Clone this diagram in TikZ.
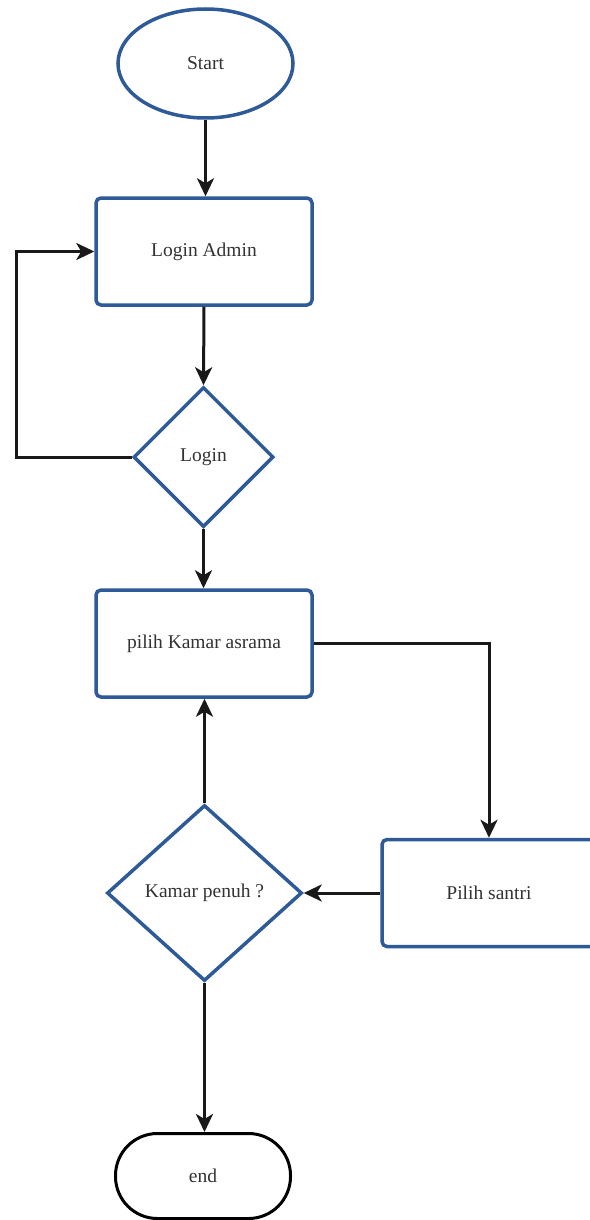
\documentclass[tikz,border=0pt]{standalone}
\usepackage{fontspec}
\setmainfont{Liberation Serif}
\usetikzlibrary{shapes.geometric,arrows.meta}
\definecolor{fblue}{RGB}{46,90,152}
\begin{document}
\begin{tikzpicture}[x=1pt,y=-1pt,
  every node/.style={font=\fontsize{19.5}{22}\selectfont, text=black!80, inner sep=0pt},
  bluebox/.style={draw=fblue, line width=3.5pt, fill=white, rectangle, rounded corners=5pt, minimum width=216pt, minimum height=107pt},
  bluedia/.style={draw=fblue, line width=3.5pt, fill=white, diamond},
  conn/.style={draw=black!90, line width=3pt, -{Stealth[length=18pt,width=17pt,inset=5pt]}}]
\fill[white] (0,0) rectangle (589,1220);
\useasboundingbox (0,0) rectangle (589,1220);
\node[draw=fblue, line width=3.5pt, ellipse, fill=white, minimum width=175pt, minimum height=109pt] (start) at (205.5,63.5) {Start};
\node[bluebox] (admin) at (204,251.5) {Login Admin};
\node[bluedia, minimum width=140pt, minimum height=140pt] (login) at (203.5,457) {Login};
\node[bluebox] (kamar) at (204,643.5) {pilih Kamar asrama};
\node[bluebox, minimum width=214pt] (santri) at (489,893) {Pilih santri};
\node[bluedia, minimum width=195pt, minimum height=176pt] (penuh) at (204.5,893) {Kamar penuh ?};
\node[draw=black, line width=3pt, rectangle, rounded corners=42pt, fill=white, minimum width=175pt, minimum height=85pt] (end) at (203,1176) {end};
\coordinate (loopc) at (16,457);
\draw[conn] (start.south) -- (start.south |- admin.north);
\draw[conn] (admin.south) -- (login.north);
\draw[conn] (login.west) -- (loopc) |- (admin.west);
\draw[conn] (login.south) -- (login.south |- kamar.north);
\draw[conn] (kamar.east) -| (santri.north);
\draw[conn] (santri.west) -- (penuh.east);
\draw[conn] (penuh.north) -- (penuh.north |- kamar.south);
\draw[conn] (penuh.south) -- (penuh.south |- end.north);
\end{tikzpicture}
\end{document}
